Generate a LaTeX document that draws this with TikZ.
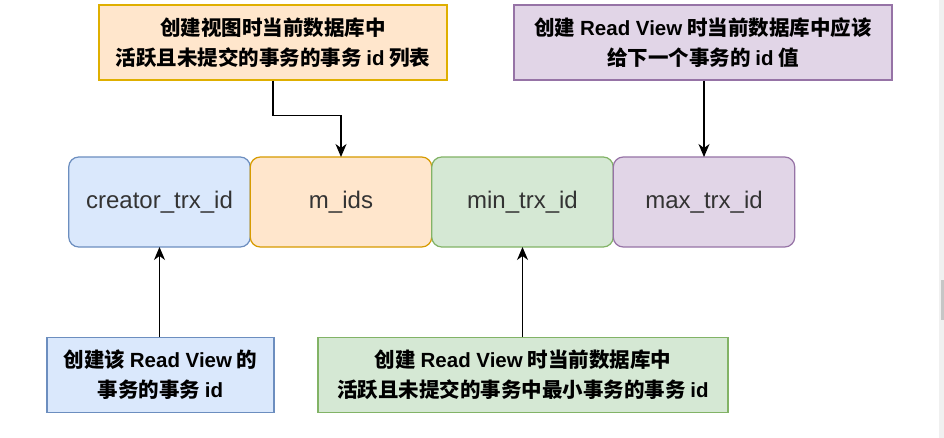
\documentclass[tikz,border=0pt]{standalone}
\usepackage{fontspec}
\setmainfont{Liberation Sans}
\newfontfamily\cjk{Noto Sans CJK SC}
\newfontfamily\enbf{Liberation Sans Bold}
\newcommand{\en}[1]{{\enbf #1}}
\usetikzlibrary{positioning,arrows.meta}

\definecolor{bluefill}{HTML}{DAE8FC}
\definecolor{blueline}{HTML}{6C8EBF}
\definecolor{orangefill}{HTML}{FFE6CC}
\definecolor{orangeline}{HTML}{D79B00}
\definecolor{greenfill}{HTML}{D5E8D4}
\definecolor{greenline}{HTML}{82B366}
\definecolor{purplefill}{HTML}{E1D5E7}
\definecolor{purpleline}{HTML}{9673A6}
\definecolor{labelgray}{HTML}{333333}

\tikzset{
  field/.style={draw, line width=1.2pt, rounded corners=10pt, outer sep=0pt,
    minimum width=181.5pt, minimum height=90pt, inner sep=0pt,
    font=\fontsize{24}{28}\selectfont, text=labelgray},
  note/.style={draw, line width=1.2pt, minimum height=75pt, inner sep=0pt,
    align=center, font=\cjk\bfseries\fontsize{20.5}{30}\selectfont},
  pointer/.style={line width=1.2pt, -{Stealth[length=13pt,width=11pt,inset=4pt]}}
}

\begin{document}
\begin{tikzpicture}[x=1pt,y=-1pt]
    \useasboundingbox (0,0) rectangle (944,438);

    % Scrollbar at the right edge of the screenshot
    \fill[gray!12] (939,0) rectangle (944,438);
    \fill[gray!45] (941,280) rectangle (943.5,320);

    % Draw the four fields of the Read View
    \node[field, fill=bluefill, draw=blueline] (creator) at (159.5,202) {creator\_trx\_id};
    \node[field, fill=orangefill, draw=orangeline, right=0pt of creator] (mids) {m\_ids};
    \node[field, fill=greenfill, draw=greenline, right=0pt of mids] (mintrx) {min\_trx\_id};
    \node[field, fill=purplefill, draw=purpleline, right=0pt of mintrx] (maxtrx) {max\_trx\_id};

    % Notes above the fields
    \node[note, fill=orangefill, draw=orangeline!80!yellow, minimum width=348pt] (midsnote) at (273,42.5)
        {创建视图时当前数据库中\\活跃且未提交的事务的事务 \en{id} 列表};
    \node[note, fill=purplefill, draw=purpleline, minimum width=378pt] (maxnote) at (703,42.5)
        {创建 \en{Read View} 时当前数据库中应该\\给下一个事务的 \en{id} 值};

    % Notes below the fields
    \node[note, fill=bluefill, draw=blueline, minimum width=227pt] (creatornote) at (160.5,375)
        {创建该 \en{Read View} 的\\事务的事务 \en{id}};
    \node[note, fill=greenfill, draw=greenline, minimum width=410pt] (minnote) at (523,375)
        {创建 \en{Read View} 时当前数据库中\\活跃且未提交的事务中最小事务的事务 \en{id}};

    % Arrows from the notes to the fields
    \draw[pointer] (midsnote.south) -- ++(0,35) -| (mids.north);
    \draw[pointer] (maxnote.south -| maxtrx.north) -- (maxtrx.north);
    \draw[pointer] (creatornote.north -| creator.south) -- (creator.south);
    \draw[pointer] (minnote.north -| mintrx.south) -- (mintrx.south);

\end{tikzpicture}
\end{document}
